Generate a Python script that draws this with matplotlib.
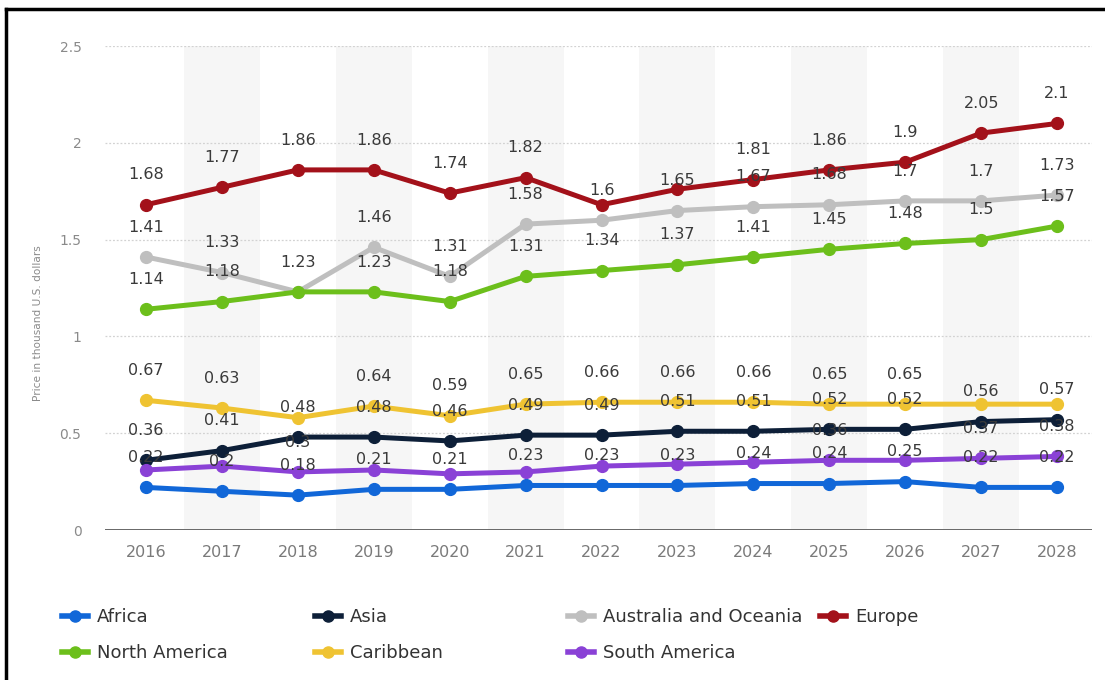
import numpy as np
import matplotlib
matplotlib.use('Agg')
import matplotlib.pyplot as plt
from matplotlib.lines import Line2D

plt.rcParams['font.family'] = ['DejaVu Sans']

# 年份和各地区价格（千美元）
years = ['2016', '2017', '2018', '2019', '2020', '2021', '2022',
         '2023', '2024', '2025', '2026', '2027', '2028']

africa = [0.22, 0.2, 0.18, 0.21, 0.21, 0.23, 0.23, 0.23, 0.24, 0.24, 0.25, 0.22, 0.22]
asia = [0.36, 0.41, 0.48, 0.48, 0.46, 0.49, 0.49, 0.51, 0.51, 0.52, 0.52, 0.56, 0.57]
australia = [1.41, 1.33, 1.23, 1.46, 1.31, 1.58, 1.6, 1.65, 1.67, 1.68, 1.7, 1.7, 1.73]
europe = [1.68, 1.77, 1.86, 1.86, 1.74, 1.82, 1.68, 1.76, 1.81, 1.86, 1.9, 2.05, 2.1]
north_america = [1.14, 1.18, 1.23, 1.23, 1.18, 1.31, 1.34, 1.37, 1.41, 1.45, 1.48, 1.5, 1.57]
caribbean = [0.67, 0.63, 0.58, 0.64, 0.59, 0.65, 0.66, 0.66, 0.66, 0.65, 0.65, 0.65, 0.65]
south_america = [0.31, 0.33, 0.3, 0.31, 0.29, 0.3, 0.33, 0.34, 0.35, 0.36, 0.36, 0.37, 0.38]

names = ['Africa', 'Asia', 'Australia and Oceania', 'Europe',
         'North America', 'Caribbean', 'South America']
values = [africa, asia, australia, europe, north_america, caribbean, south_america]
colors = ['#1167d8', '#0d1f38', '#bfbfbf', '#a3111a',
          '#6cbf1b', '#efc332', '#8a41d6']

# 重叠时不显示的数据标签（按年份下标）
hidden = {
    'Australia and Oceania': [2],
    'Europe': [6, 7],
    'Caribbean': [2, 11, 12],
    'South America': [0, 1, 3, 4, 5, 6, 7, 8, 10],
}

W, H = 1105, 680
fig = plt.figure(figsize=(W / 100, H / 100), dpi=100)
ax = fig.add_axes([105 / W, 1 - 530 / H, (1092 - 105) / W, (530 - 46) / H])

x = np.arange(len(years))

# 奇数年份的浅灰色背景条
for i in x[1::2]:
    ax.axvspan(i - 0.5, i + 0.5, color='#f6f6f6', zorder=0, lw=0)

for yv in [0.5, 1, 1.5, 2, 2.5]:
    ax.axhline(yv, color='#d2d2d2', lw=0.9, ls=(0, (1.5, 1.5)), zorder=1)
ax.axhline(0, color='#5a5a5a', lw=2, zorder=2)

for name, v, c in zip(names, values, colors):
    ax.plot(x, v, color=c, lw=3.6, marker='o', ms=8.5,
            solid_joinstyle='round', zorder=3, label=name)

for name, v in zip(names, values):
    skip = hidden.get(name, [])
    for i, val in enumerate(v):
        if i in skip:
            continue
        ax.annotate('{0:g}'.format(val), (x[i], val), xytext=(0, 21.5),
                    textcoords='offset points', ha='center', va='center',
                    fontsize=11.5, color='#3a3a3a', zorder=5,
                    annotation_clip=False)

ax.set_xlim(-0.54, 12.46)
ax.set_ylim(0, 2.5)
ax.set_xticks(x)
ax.set_xticklabels(years)
ax.set_yticks([0, 0.5, 1, 1.5, 2, 2.5])
ax.set_yticklabels(['0', '0.5', '1', '1.5', '2', '2.5'])
ax.tick_params(axis='x', length=0, pad=11, labelsize=11.5, labelcolor='#7a7a7a')
ax.tick_params(axis='y', length=0, pad=17, labelsize=10, labelcolor='#8a8a8a')
for s in ax.spines.values():
    s.set_visible(False)

fig.text(38 / W, 1 - 323 / H, 'Price in thousand U.S. dollars', rotation=90,
         ha='center', va='center', fontsize=7.6, color='#8a8a8a')

# 图例：四列，按列分别放置
handles, labels = ax.get_legend_handles_labels()
col_x = [62, 315, 568, 820]
for c in range(4):
    idx = [i for i in range(len(names)) if i % 4 == c]
    leg = fig.legend([handles[i] for i in idx], [labels[i] for i in idx],
                     loc='upper left', bbox_to_anchor=(col_x[c] / W, 1 - 608 / H),
                     frameon=False, handlelength=1.45, handletextpad=0.5,
                     labelspacing=1.0, borderpad=0, borderaxespad=0,
                     prop={'size': 13})
    for t in leg.get_texts():
        t.set_color('#333333')
    for h in leg.legend_handles:
        h.set_markersize(8)
        h.set_linewidth(4)

# 外框
fig.add_artist(Line2D([6 / W, 6 / W], [0, 1 - 9 / H], transform=fig.transFigure,
                      color='black', lw=2.5))
fig.add_artist(Line2D([6 / W, 1], [1 - 9 / H, 1 - 9 / H], transform=fig.transFigure,
                      color='black', lw=2.5))

fig.savefig('out.png', dpi=100, facecolor='white')
